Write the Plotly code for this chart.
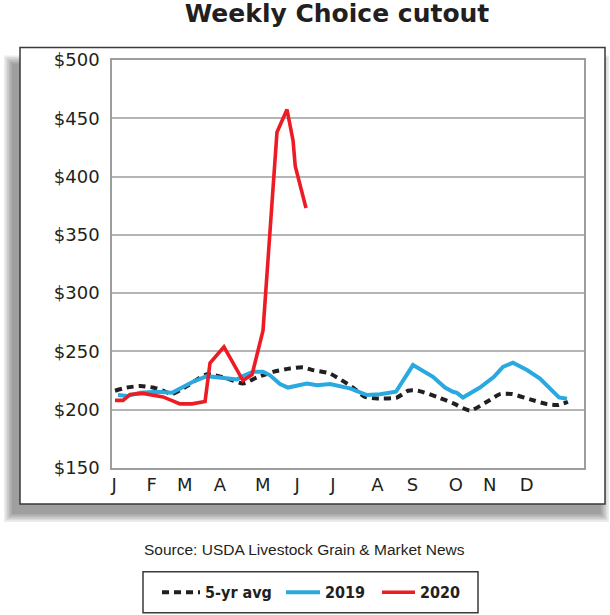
import plotly.graph_objects as go

# ---- data (x in week-of-year units) ----
avg_weeks = [1.00, 2.35, 3.82, 5.28, 6.41, 7.42, 9.11, 11.36, 13.61, 15.41, 16.99, 18.79, 20.71,
             22.17, 23.30, 25.21, 27.80, 29.15, 30.50, 32.76, 34.00, 35.12, 37.26, 39.06, 40.98,
             42.89, 44.36, 45.71, 47.74, 49.66, 50.89, 52.01]
avg_vals = [216.3, 219, 220.3, 219, 216.3, 213.4, 220.3, 230.5, 226.8, 222.5, 227.7, 232.5, 235.4,
            236.3, 234, 231, 219, 211, 209.7, 210.5, 216.3, 216.3, 211, 205.6, 199.3,
            206.8, 213.4, 213.4, 208.9, 204.8, 204, 206.8]

y2019_weeks = [1.34, 2.35, 3.82, 5.73, 7.42, 8.55, 9.78, 11.36, 12.82, 14.74, 15.41, 16.54, 17.67,
               18.46, 19.58, 20.48, 22.62, 23.75, 25.21, 27.46, 29.38, 30.84, 32.64, 34.56, 36.81,
               38.16, 39.06, 39.51, 40.19, 42.10, 43.68, 44.69, 45.82, 47.40, 48.86, 51.00, 51.90]
y2019_vals = [212.6, 211.7, 214.5, 215.4, 214.5, 219, 224, 228.8, 227.7, 226, 228.8, 232.5, 232.5,
              229.5, 222, 219, 222.5, 221, 222, 218.3, 212.6, 213.2, 215.4, 238.3, 228.2,
              219, 215.4, 214.5, 210.5, 219, 228.2, 236.8, 240.3, 234, 226.8, 210.5, 209.4]

y2020_weeks = [1.00, 1.90, 2.69, 4.15, 6.41, 8.32, 9.67, 11.14, 11.70, 13.27, 15.41, 16.43, 17.67,
               18.40, 19.24, 20.37, 21.05, 21.30, 22.51]
y2020_vals = [208, 208, 213, 214, 211, 205, 205, 207, 240, 254, 225, 230, 268,
              352, 438, 457.5, 431, 409, 373]

month_ticks = [0.89, 5.13, 8.85, 12.82, 17.63, 21.5, 25.55, 30.54, 34.5, 39.38, 43.2, 47.36]
month_labels = ["J", "F", "M", "A", "M", "J", "J", "A", "S", "O", "N", "D"]
y_ticks = [150, 200, 250, 300, 350, 400, 450, 500]

# ---- layout geometry (pixels) ----
W, H = 610, 615
L, R, T, B = 112, 584, 59.5, 468


def px(x):
    return (x - L) / (R - L)


def py(y):
    return (B - y) / (B - T)


fig = go.Figure()
fig.add_trace(go.Scatter(x=avg_weeks, y=avg_vals, mode="lines", name="5-yr avg",
                         legend="legend",
                         line=dict(color="#231f20", width=4, dash="7px,5px",
                                   shape="spline", smoothing=0.6)))
fig.add_trace(go.Scatter(x=y2019_weeks, y=y2019_vals, mode="lines", name="2019",
                         legend="legend2",
                         line=dict(color="#29a9e0", width=4)))
fig.add_trace(go.Scatter(x=y2020_weeks, y=y2020_vals, mode="lines", name="2020",
                         legend="legend3",
                         line=dict(color="#ed1c24", width=3.6)))

shapes = []
# soft drop shadow
for k in range(6):
    e = 1.6 * k
    shapes.append(dict(type="rect", xref="paper", yref="paper", layer="below",
                       x0=px(12 - e), x1=px(601 + e), y0=py(63 - e), y1=py(514 + e),
                       fillcolor="rgba(0,0,0,0.075)", line=dict(width=0)))
# outer frame
shapes.append(dict(type="rect", xref="paper", yref="paper", layer="below",
                   x0=px(20), x1=px(605), y0=py(47), y1=py(504),
                   fillcolor="white", line=dict(color="#3a3a3a", width=1.5)))
# legend box
shapes.append(dict(type="rect", xref="paper", yref="paper", layer="below",
                   x0=px(143), x1=px(478), y0=py(572), y1=py(613),
                   fillcolor="white", line=dict(color="#3a3a3a", width=1.5)))

leg_font = dict(family="DejaVu Sans Condensed, DejaVu Sans, sans-serif",
                size=16, color="#231f20", weight="bold")


def leg(xpix, iw):
    return dict(orientation="h", x=px(xpix), xanchor="left", y=py(592.5), yanchor="middle",
                bgcolor="rgba(0,0,0,0)", borderwidth=0, itemwidth=iw, font=leg_font)


fig.update_layout(
    width=W, height=H,
    margin=dict(l=L, r=W - R, t=T, b=H - B, pad=0, autoexpand=False),
    paper_bgcolor="white", plot_bgcolor="white",
    title=dict(text="<b>Weekly Choice cutout</b>", x=337 / W, xanchor="center",
               y=1 - 13 / H, yanchor="middle", xref="container", yref="container",
               font=dict(family="DejaVu Sans", size=25, color="#231f20")),
    shapes=shapes,
    showlegend=True,
    legend=leg(157, 38),
    legend2=leg(281, 34),
    legend3=leg(377, 33),
    annotations=[dict(text="Source: USDA Livestock Grain & Market News", xref="paper",
                      yref="paper", x=px(304), y=py(550), xanchor="center", yanchor="middle",
                      showarrow=False,
                      font=dict(family="Liberation Sans", size=15.5, color="#231f20"))],
)
fig.update_xaxes(range=[0.66, 53.82], tickmode="array", tickvals=month_ticks,
                 ticktext=month_labels, showgrid=False, zeroline=False,
                 showline=True, mirror=True, linecolor="#9d9d9d", linewidth=1.5,
                 ticks="", ticklabelstandoff=0,
                 tickfont=dict(family="DejaVu Sans", size=18, color="#231f20"))
fig.update_yaxes(range=[150, 500], tickmode="array", tickvals=y_ticks,
                 ticktext=["$" + str(v) for v in y_ticks], showgrid=True,
                 gridcolor="#b5b5b5", gridwidth=1.5, zeroline=False,
                 showline=True, mirror=True, linecolor="#9d9d9d", linewidth=1.5,
                 ticks="", ticklabelstandoff=7,
                 tickfont=dict(family="DejaVu Sans", size=18, color="#231f20"))

fig.write_html("out.html")
